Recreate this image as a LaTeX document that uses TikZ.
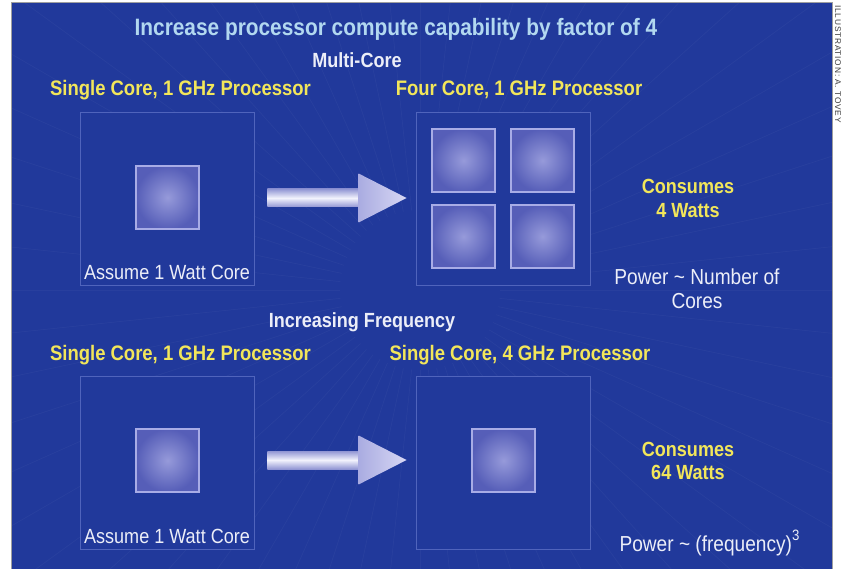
\documentclass[tikz,border=0pt]{standalone}
\usepackage{fontspec}
\setmainfont{Liberation Sans}
\newfontfamily\cond[FakeStretch=0.88]{Liberation Sans}
\newfontfamily\creditfont[LetterSpace=10]{Liberation Sans}
\usetikzlibrary{calc}
\definecolor{panel}{RGB}{33,57,155}
\definecolor{boxline}{RGB}{80,100,188}
\definecolor{coreinner}{RGB}{150,154,218}
\definecolor{coreouter}{RGB}{86,94,184}
\definecolor{coreline}{RGB}{168,172,230}
\definecolor{headyellow}{RGB}{242,230,90}
\definecolor{titleblue}{RGB}{178,216,240}
\definecolor{softwhite}{RGB}{236,238,248}
\definecolor{arrowlight}{RGB}{242,242,252}
\definecolor{arrowdark}{RGB}{145,150,212}
\definecolor{headA}{RGB}{170,172,225}
\definecolor{headB}{RGB}{215,215,244}
\definecolor{creditgray}{RGB}{60,60,60}
\begin{document}
\begin{tikzpicture}[x=1pt,y=-1pt,
  chip/.style={draw=boxline, line width=0.8pt, fill=panel, minimum width=174pt, minimum height=173pt, inner sep=0pt},
  core/.style={draw=coreline, line width=1.6pt, inner color=coreinner, outer color=coreouter, minimum size=63pt, inner sep=0pt},
  ttl/.style={font=\cond\bfseries\fontsize{23.7}{26}\selectfont, text=titleblue, anchor=base, inner sep=0pt},
  sect/.style={font=\cond\bfseries\fontsize{20.5}{24}\selectfont, text=softwhite, anchor=base, inner sep=0pt},
  head/.style={font=\cond\bfseries\fontsize{21}{24}\selectfont, text=headyellow, anchor=base, inner sep=0pt},
  watts/.style={font=\cond\bfseries\fontsize{20.5}{24}\selectfont, text=headyellow, anchor=base, inner sep=0pt},
  plain/.style={font=\cond\fontsize{20.5}{24}\selectfont, text=softwhite, anchor=base, inner sep=0pt},
  law/.style={font=\cond\fontsize{21.7}{24}\selectfont, text=softwhite, anchor=base, inner sep=0pt},
  shaft/.style={top color=arrowdark, bottom color=arrowdark, middle color=arrowlight},
  tiphead/.style={left color=headA, right color=headB},
  ray/.style={white, opacity=0.035, line width=0.7pt}
]
\useasboundingbox (0,0) rectangle (841,569);
\fill[white] (0,0) rectangle (841,569);
\fill[panel] (11,3) rectangle (832,569);
\begin{scope}
  \clip (11,3) rectangle (832,569);
  \foreach \a in {0,6,...,359} \draw[ray] (420,290) ++(\a:80) -- ++(\a:900);
\end{scope}
\draw[gray!75, line width=1pt] (11,569) -- (11,3) -- (832,3) -- (832,569);

% credit
\node[font=\creditfont\fontsize{8.3}{9}\selectfont, text=creditgray, rotate=-90, anchor=west, inner sep=0pt] (credit) at (838,5) {ILLUSTRATION: A. TOVEY};

% titles
\node[ttl] (title) at (396,35.5) {Increase processor compute capability by factor of 4};
\node[sect] (multi) at (357,68) {Multi-Core};
\node[sect] (freq) at (362,328) {Increasing Frequency};

% headers
\node[head] (h1) at (180.5,96) {Single Core, 1 GHz Processor};
\node[head] (h2) at (519,96) {Four Core, 1 GHz Processor};
\node[head] (h3) at (180.5,360.5) {Single Core, 1 GHz Processor};
\node[head] (h4) at (520,360.5) {Single Core, 4 GHz Processor};

% chips
\node[chip] (b1) at (167,198.5) {};
\node[chip] (b2) at (503,198.5) {};
\node[chip] (b3) at (167,462.5) {};
\node[chip] (b4) at (503,462.5) {};

% cores
\node[core] (k1) at ($(b1.center)+(0.5,-1)$) {};
\node[core] (k2a) at ($(b2.center)+(-39.5,-38)$) {};
\node[core] (k2b) at ($(b2.center)+(39.5,-38)$) {};
\node[core] (k2c) at ($(b2.center)+(-39.5,38)$) {};
\node[core] (k2d) at ($(b2.center)+(39.5,38)$) {};
\node[core] (k3) at ($(b3.center)+(0.5,-2)$) {};
\node[core] (k4) at ($(b4.center)+(0.5,-2)$) {};

% labels in chips
\node[plain] (l1) at (167,280) {Assume 1 Watt Core};
\node[plain] (l3) at (167,543) {Assume 1 Watt Core};

% arrows
\coordinate (a1s) at ($(b1.east)+(13,-0.5)$);
\coordinate (a1t) at ($(b2.west)+(-9,-0.5)$);
\shade[shaft] ($(a1s)+(0,-9)$) rectangle ($(a1t)+(-47,9)$);
\shade[tiphead] ($(a1t)+(-48,-24.5)$) -- (a1t) -- ($(a1t)+(-48,24.5)$) -- cycle;
\coordinate (a2s) at ($(b3.east)+(13,-2.5)$);
\coordinate (a2t) at ($(b4.west)+(-9,-2.5)$);
\shade[shaft] ($(a2s)+(0,-9)$) rectangle ($(a2t)+(-47,9)$);
\shade[tiphead] ($(a2t)+(-48,-24.5)$) -- (a2t) -- ($(a2t)+(-48,24.5)$) -- cycle;

% right column
\node[watts] (c1a) at (688,194) {Consumes};
\node[watts] (c1b) at (688,217.5) {4 Watts};
\node[law] (p1a) at (697,285) {Power \textasciitilde\ Number of};
\node[law] (p1b) at (697,308.5) {Cores};
\node[watts] (c2a) at (688,456) {Consumes};
\node[watts] (c2b) at (688,479.5) {64 Watts};
\node[law] (p2) at (709.5,551) {Power \textasciitilde\ (frequency)\raisebox{0.48em}{\fontsize{15}{16}\selectfont 3}};
\end{tikzpicture}
\end{document}
